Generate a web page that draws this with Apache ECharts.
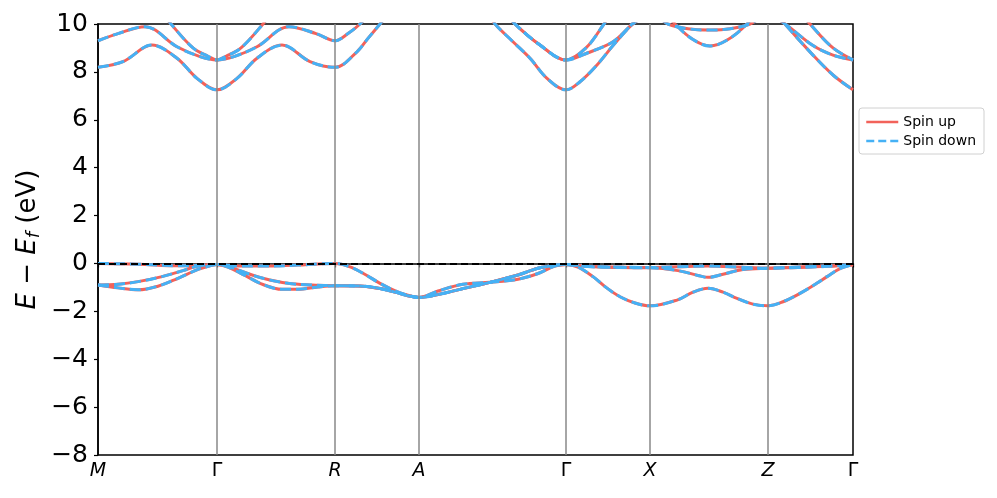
<!DOCTYPE html>
<html>
<head>
<meta charset="utf-8">
<script src="https://cdn.jsdelivr.net/npm/echarts@6/dist/echarts.min.js"></script>
<style>
  html, body { margin: 0; padding: 0; background: #fff; }
  #chart { width: 997px; height: 498px; }
</style>
</head>
<body>
<div id="chart"></div>
<script>
// high-symmetry points along the k-path (distance units)
const kPos = [0, 119, 237, 321, 468, 552, 670, 755]
const kLabels = ['M', 'Γ', 'R', 'A', 'Γ', 'X', 'Z', 'Γ']
const yTicks = [-8, -6, -4, -2, 0, 2, 4, 6, 8, 10]

// conduction bands [k, E-Ef]
const cond1 = [[0,8.19],[25,8.43],[54,9.12],[79,8.57],[99,7.73],[119,7.25],[139,7.73],[159,8.57],[184,9.12],[212,8.43],[237,8.19],[259,8.84],[270,9.4],[282,10.0],[300,10.9],[321,11.3],[360,11.2],[385,10.7],[397,10.0],[415,9.26],[432,8.57],[449,7.73],[468,7.25],[482,7.59],[499,8.29],[515,9.1],[534,10.0],[552,10.8],[565,10.6],[577,10.0],[595,9.35],[612,9.08],[630,9.35],[649,10.0],[660,10.6],[670,10.9],[687,10.0],[715,8.7],[735,7.87],[755,7.25]]
const cond2 = [[0,9.3],[20,9.6],[47,9.89],[79,9.05],[102,8.64],[119,8.5],[136,8.64],[159,9.05],[191,9.89],[218,9.6],[237,9.3],[250,9.6],[262,10.0],[275,10.6],[300,11.2],[321,11.5],[380,11.2],[405,10.6],[417,10.0],[442,9.12],[468,8.5],[490,8.8],[515,9.26],[535,10.0],[552,10.4],[560,10.3],[570,10.0],[590,9.8],[612,9.75],[632,9.8],[652,10.0],[670,10.4],[687,10.0],[715,9.1],[735,8.7],[755,8.5]]
const cond3 = [[0,11.5],[40,11.3],[60,10.7],[73,10.0],[95,9.0],[110,8.65],[119,8.5],[128,8.65],[143,9.0],[165,10.0],[178,10.7],[200,11.3],[237,11.5],[321,11.8],[380,11.2],[405,10.6],[417,10.0],[442,9.12],[468,8.5],[488,9.0],[506,10.0],[518,10.7],[552,11.3],[612,11.3],[690,11.0],[700,10.6],[712,10.0],[735,9.0],[755,8.5]]

// valence bands [k, E-Ef]
const val1 = [[0,0.0],[40,-0.03],[80,-0.1],[100,-0.08],[119,-0.04],[140,-0.11],[170,-0.11],[200,-0.07],[220,-0.02],[237,0.0],[252,-0.14],[265,-0.41],[282,-0.83],[299,-1.18],[309,-1.32],[321,-1.42],[340,-1.15],[365,-0.87],[392,-0.79],[420,-0.66],[440,-0.42],[456,-0.12],[468,-0.04],[490,-0.12],[520,-0.15],[552,-0.17],[580,-0.14],[610,-0.11],[640,-0.15],[670,-0.2],[700,-0.15],[730,-0.1],[755,-0.05]]
const val2 = [[0,-0.9],[20,-0.87],[40,-0.76],[64,-0.55],[85,-0.3],[97,-0.14],[110,-0.06],[119,-0.04],[130,-0.12],[147,-0.38],[165,-0.62],[190,-0.83],[214,-0.9],[237,-0.93],[265,-0.95],[282,-1.05],[299,-1.22],[310,-1.35],[321,-1.42],[340,-1.3],[365,-1.05],[392,-0.79],[420,-0.48],[440,-0.2],[456,-0.08],[468,-0.04],[490,-0.13],[520,-0.17],[552,-0.18],[580,-0.3],[600,-0.5],[610,-0.58],[625,-0.45],[645,-0.25],[670,-0.2],[700,-0.17],[730,-0.12],[755,-0.05]]
const val3 = [[0,-0.9],[20,-1.02],[40,-1.1],[60,-0.95],[80,-0.62],[100,-0.25],[112,-0.1],[119,-0.04],[130,-0.15],[147,-0.5],[165,-0.88],[184,-1.08],[200,-1.08],[220,-0.98],[237,-0.93],[265,-0.95],[282,-1.05],[299,-1.22],[310,-1.35],[321,-1.42],[340,-1.3],[365,-1.05],[392,-0.79],[420,-0.48],[440,-0.2],[456,-0.08],[468,-0.04],[480,-0.15],[495,-0.55],[508,-1.0],[522,-1.39],[537,-1.65],[552,-1.77],[579,-1.53],[595,-1.2],[610,-1.04],[625,-1.2],[639,-1.46],[655,-1.7],[670,-1.77],[685,-1.6],[702,-1.25],[720,-0.8],[729,-0.55],[742,-0.22],[755,-0.05]]

const bands = [cond1, cond2, cond3, val1, val2, val3]
const UP_COLOR = '#f2625a'
const DOWN_COLOR = '#45b1f5'
const FONT = 'DejaVu Sans'

const bandSeries = (name, color, dashed) => bands.map(b => ({
  name: name,
  type: 'line',
  data: b,
  smooth: 0.35,
  symbol: 'none',
  clip: true,
  z: dashed ? 4 : 3,
  lineStyle: { color: color, width: 3, type: dashed ? [11, 5] : 'solid' },
  itemStyle: { color: color }
}))

const chart = echarts.init(document.getElementById('chart'), null, { renderer: 'canvas' })

const option = {
  animation: false,
  backgroundColor: '#fff',
  grid: {
    left: 98, right: 144, top: 24, bottom: 43,
    show: true, borderColor: '#000', borderWidth: 1.5, backgroundColor: 'transparent'
  },
  legend: {
    data: [
      { name: 'Spin up', lineStyle: { color: UP_COLOR, width: 2.5, type: 'solid' } },
      { name: 'Spin down', lineStyle: { color: DOWN_COLOR, width: 2.5, type: [8, 4] } }
    ],
    orient: 'vertical',
    left: 859, top: 108,
    padding: [7, 8, 6, 6],
    itemGap: 5,
    itemWidth: 32,
    itemHeight: 14,
    itemStyle: { opacity: 0 },
    borderColor: '#d0d0d0',
    borderWidth: 1,
    borderRadius: 3,
    textStyle: { fontFamily: FONT, fontSize: 14, color: '#000' }
  },
  xAxis: {
    type: 'value',
    min: 0,
    max: 755,
    splitLine: { show: false },
    axisLine: { show: true, lineStyle: { color: '#000', width: 1.5 } },
    axisTick: { show: true, length: 4, customValues: kPos, lineStyle: { color: '#000', width: 1.2 } },
    axisLabel: {
      customValues: kPos,
      margin: 7,
      color: '#000',
      formatter: v => {
        const lab = kLabels[kPos.indexOf(v)]
        return lab === 'Γ' ? '{n|Γ}' : '{i|' + lab + '}'
      },
      rich: {
        i: { fontFamily: FONT, fontSize: 19, fontStyle: 'italic', color: '#000' },
        n: { fontFamily: FONT, fontSize: 19, color: '#000' }
      }
    }
  },
  yAxis: {
    type: 'value',
    min: -8,
    max: 10,
    interval: 2,
    splitLine: { show: false },
    axisLine: { show: true, lineStyle: { color: '#000', width: 1.5 } },
    axisTick: { show: true, length: 4, lineStyle: { color: '#000', width: 1.2 } },
    axisLabel: {
      margin: 10,
      fontFamily: FONT,
      fontSize: 25,
      color: '#000',
      formatter: v => (v < 0 ? '\u2212' + Math.abs(v) : String(v))
    },
    name: '{i|E} \u2212 {i|E}{s|f} (eV)',
    nameLocation: 'middle',
    nameRotate: 90,
    nameGap: 55,
    nameMoveOverlap: false,
    nameTextStyle: {
      fontFamily: FONT,
      fontSize: 26,
      color: '#000',
      rich: {
        i: { fontFamily: FONT, fontSize: 26, fontStyle: 'italic', color: '#000' },
        s: { fontFamily: FONT, fontSize: 18, fontStyle: 'italic', color: '#000', padding: [12, 0, 0, 0] }
      }
    }
  },
  series: [
    {
      type: 'line',
      data: [],
      silent: true,
      z: 1,
      markLine: {
        silent: true,
        symbol: 'none',
        label: { show: false },
        lineStyle: { color: '#888', type: 'solid', width: 1.5 },
        data: kPos.slice(1, -1).map(k => ({ xAxis: k }))
      }
    },
    ...bandSeries('Spin up', UP_COLOR, false),
    ...bandSeries('Spin down', DOWN_COLOR, true),
    {
      type: 'line',
      data: [],
      silent: true,
      z: 6,
      markLine: {
        silent: true,
        symbol: 'none',
        label: { show: false },
        lineStyle: { color: '#000', type: [7, 4], width: 2 },
        data: [{ yAxis: 0 }]
      }
    }
  ]
}

chart.setOption(option)
</script>
</body>
</html>
